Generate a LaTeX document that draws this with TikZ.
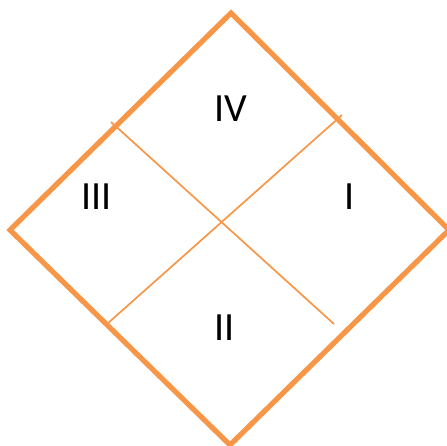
\documentclass[tikz,border=0pt]{standalone}
\usepackage{fontspec}
\setmainfont{Carlito}
\definecolor{qorange}{HTML}{F79646}
\begin{document}
\begin{tikzpicture}[x=1pt,y=-1pt,
  frame/.style={draw=qorange,line width=5.2pt,line join=miter},
  divider/.style={draw=qorange,line width=1.7pt},
  quadlabel/.style={font=\fontsize{40}{40}\selectfont,text=black,inner sep=0pt,anchor=center}]
\useasboundingbox (0,0) rectangle (447,446);
\coordinate (T) at (231,13);
\coordinate (L) at (10,230);
\coordinate (B) at (230,445);
\coordinate (R) at (449,230);
\draw[frame] (T) -- (R) -- (B) -- (L) -- cycle;
\coordinate (a1) at (111,122);
\coordinate (a2) at (334,324);
\coordinate (b1) at (107,324);
\coordinate (b2) at (342,115);
\draw[divider] (a1) -- (a2);
\draw[divider] (b1) -- (b2);
\node[quadlabel] (q4) at (230.5,109) {IV};
\node[quadlabel] (q3) at (96.5,197) {III};
\node[quadlabel] (q1) at (349.5,197) {I};
\node[quadlabel] (q2) at (224.5,328) {II};
\end{tikzpicture}
\end{document}
